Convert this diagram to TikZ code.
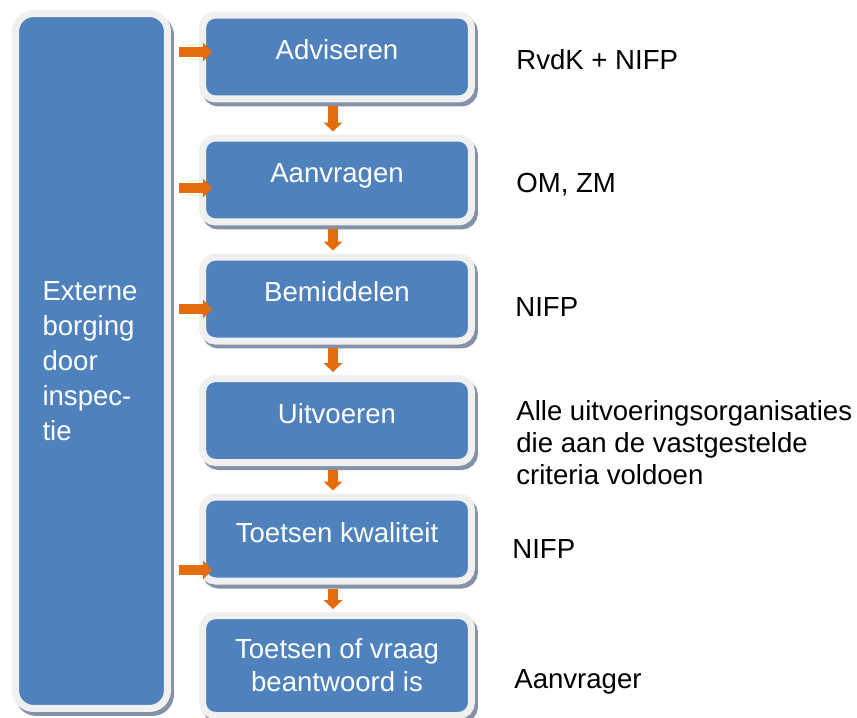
\documentclass[tikz,border=0pt]{standalone}
\usepackage{fontspec}
\setmainfont{Liberation Sans}
\usepackage{xcolor}
\usepackage{tikz}
\usetikzlibrary{arrows.meta,shadows}
\definecolor{boxblue}{HTML}{4F81BD}
\definecolor{rim}{HTML}{F0F0F0}
\definecolor{floworange}{HTML}{E46C0A}
\definecolor{shade}{HTML}{8491A8}
\newcommand{\txt}{\fontsize{15.7pt}{18.2pt}\selectfont}

\begin{document}
\begin{tikzpicture}[x=0.02cm, y=-0.02cm,
    box/.style={rectangle, rounded corners=0.26cm, fill=boxblue, draw=rim, line width=0.14cm, inner sep=0pt, text=white, font=\txt,
        general shadow={fill=shade, draw=shade, shadow xshift=0.06cm, shadow yshift=-0.08cm}},
    stepbox/.style={box, minimum width=5.38cm, minimum height=1.68cm},
    oneline/.style={text height=11.3pt, text depth=7.9pt},
    who/.style={anchor=base west, inner sep=0pt, font=\txt},
    flow/.style={floworange, line width=0.19cm, -{Triangle[length=0.18cm, width=0.37cm]}}]
    \useasboundingbox (0,0) rectangle (857,717);
    \node[box, rounded corners=0.36cm, minimum width=3.04cm, minimum height=13.9cm, align=left, text width=1.96cm,
        font=\fontsize{15.7pt}{19.9pt}\selectfont] (ext) at (91.5,361) {Externe\\borging\\door\\inspec-\\tie};
    \node[stepbox, oneline] (b1) at (337,57) {Adviseren};
    \node[stepbox, oneline] (b2) at (337,180) {Aanvragen};
    \node[stepbox, oneline] (b3) at (337,299) {Bemiddelen};
    \node[stepbox, oneline] (b4) at (337,420.5) {Uitvoeren};
    \node[stepbox, oneline] (b5) at (337,539) {Toetsen kwaliteit};
    \node[stepbox, minimum height=2cm, align=center, font=\fontsize{15.7pt}{18.8pt}\selectfont] (b6) at (337,665.5) {Toetsen of vraag\\beantwoord is};
    \foreach \a/\b in {1/2,2/3,3/4,4/5,5/6}
        \draw[flow, shorten <=0.08cm, shorten >=0.06cm] ([xshift=-0.08cm]b\a.south) -- ([xshift=-0.08cm]b\b.north);
    \foreach \b/\y in {1/52,2/188,3/309,5/570} {
        \coordinate (r\b) at (0,\y);
        \draw[flow] ([xshift=0.16cm]ext.east |- r\b) -- ([xshift=0.26cm]b\b.west |- r\b);
    }
    \node[who] (w1) at (516,69) {RvdK + NIFP};
    \node[who] (w2) at (516,192) {OM, ZM};
    \node[who] (w3) at (515,316) {NIFP};
    \node[who, anchor=west, align=left] (w4) at (516,442.5) {Alle uitvoeringsorganisaties\\die aan de vastgestelde\\criteria voldoen};
    \node[who] (w5) at (512,558) {NIFP};
    \node[who] (w6) at (514,688) {Aanvrager};
\end{tikzpicture}
\end{document}
